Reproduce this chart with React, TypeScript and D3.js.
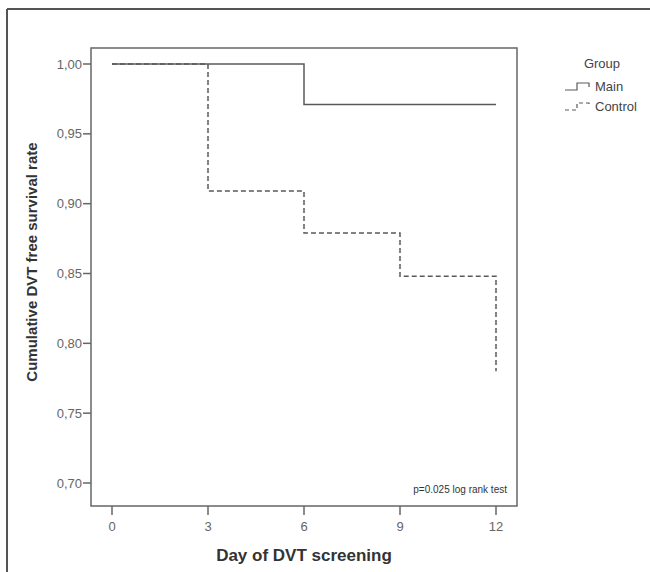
import React from "react";
import * as d3 from "d3";

// Kaplan-Meier steps
const mainDays = [0, 6, 12];
const mainSurvival = [1.0, 0.971, 0.971];
const controlDays = [0, 3, 6, 9, 12, 12];
const controlSurvival = [1.0, 0.909, 0.879, 0.848, 0.848, 0.78];

const xTicks = [0, 3, 6, 9, 12];
const yTicks = [0.7, 0.75, 0.8, 0.85, 0.9, 0.95, 1.0];
const groups = ["Main", "Control"];

export default function App() {
  const width = 650;
  const height = 572;
  const plot = { left: 91, right: 517, top: 48, bottom: 506 };

  const x = d3.scaleLinear().domain([0, 12]).range([112, 496]);
  const y = d3.scaleLinear().domain([0.7, 1.0]).range([483, 64]);

  const line = d3
    .line<[number, number]>()
    .x((d) => x(d[0]))
    .y((d) => y(d[1]))
    .curve(d3.curveStepAfter);

  const mainPts = mainDays.map((d, i) => [d, mainSurvival[i]] as [number, number]);
  const controlPts = controlDays.map((d, i) => [d, controlSurvival[i]] as [number, number]);

  const stroke = "#5a5a5a";
  const font = "'Liberation Sans', Arial, sans-serif";
  const fmt = (v: number) => v.toFixed(2).replace(".", ",");

  // legend swatches drawn as little step lines
  const legendStep = (yy: number) =>
    `M565,${yy} L577,${yy} L577,${yy - 7} L589,${yy - 7} L589,${yy - 3}`;

  return (
    <svg
      width={width}
      height={height}
      style={{ position: "absolute", left: 0, top: 0, background: "#fff" }}
      fontFamily={font}
    >
      {/* outer frame */}
      <line x1={7} y1={9} x2={650} y2={9} stroke="#555" strokeWidth={2} />
      <line x1={7} y1={9} x2={7} y2={572} stroke="#555" strokeWidth={2} />

      {/* plot frame */}
      <rect
        x={plot.left}
        y={plot.top}
        width={plot.right - plot.left}
        height={plot.bottom - plot.top}
        fill="none"
        stroke="#666"
        strokeWidth={1.5}
      />

      {/* y axis */}
      {yTicks.map((t) => (
        <g key={t}>
          <line x1={plot.left - 8} x2={plot.left} y1={y(t)} y2={y(t)} stroke="#666" strokeWidth={1.5} />
          <text x={plot.left - 9} y={y(t) + 4.5} fontSize={13} fill="#666" textAnchor="end">
            {fmt(t)}
          </text>
        </g>
      ))}

      {/* x axis */}
      {xTicks.map((t) => (
        <g key={t}>
          <line x1={x(t)} x2={x(t)} y1={plot.bottom} y2={plot.bottom + 9} stroke="#666" strokeWidth={1.5} />
          <text x={x(t)} y={plot.bottom + 25} fontSize={13} fill="#666" textAnchor="middle">
            {t}
          </text>
        </g>
      ))}

      {/* curves */}
      <path d={line(mainPts) || ""} fill="none" stroke={stroke} strokeWidth={1.5} />
      <path d={line(controlPts) || ""} fill="none" stroke={stroke} strokeWidth={1.5} strokeDasharray="5,3" />

      <text x={507} y={493} fontSize={10} fill="#333" textAnchor="end">
        p=0.025 log rank test
      </text>

      {/* axis titles */}
      <text x={304} y={561} fontSize={17} fontWeight="bold" fill="#333" textAnchor="middle">
        Day of DVT screening
      </text>
      <text
        transform="translate(37,262) rotate(-90)"
        fontSize={15}
        fontWeight="bold"
        fill="#333"
        textAnchor="middle"
      >
        Cumulative DVT free survival rate
      </text>

      {/* legend */}
      <text x={602} y={68} fontSize={13} fill="#444" textAnchor="middle">
        Group
      </text>
      {groups.map((g, i) => {
        const yy = 90 + i * 20;
        return (
          <g key={g}>
            <path
              d={legendStep(yy)}
              fill="none"
              stroke={stroke}
              strokeWidth={1.2}
              strokeDasharray={i === 1 ? "4,3" : undefined}
            />
            <text x={595} y={yy + 1} fontSize={13} fill="#444">
              {g}
            </text>
          </g>
        );
      })}
    </svg>
  );
}
